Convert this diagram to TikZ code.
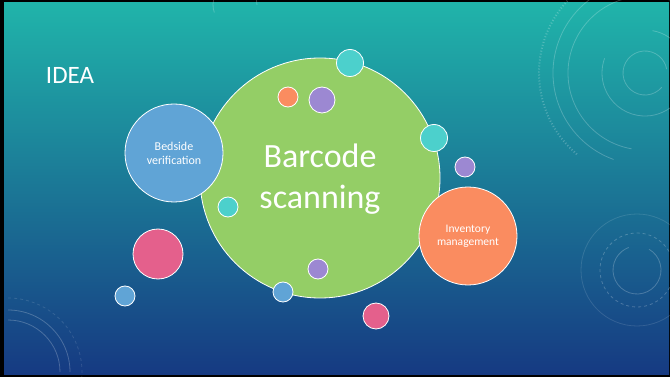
\documentclass[tikz,border=0pt]{standalone}
\usepackage{fontspec}
\setmainfont{Carlito}
\begin{document}
\begin{tikzpicture}[x=1pt,y=-1pt,
  bub/.style={circle,draw=white,line width=0.8pt,inner sep=0pt},
  deco/.style={draw=white,opacity=0.22,line width=0.8pt},
  lbl/.style={text=white,align=center,font=\fontsize{12}{14}\selectfont}]
\definecolor{bgtop}{RGB}{32,180,170}
\definecolor{bgmid}{RGB}{20,115,160}
\definecolor{bgbot}{RGB}{22,58,130}
\definecolor{cgreen}{RGB}{148,206,102}
\definecolor{cblue}{RGB}{96,164,214}
\definecolor{corange}{RGB}{250,140,96}
\definecolor{cpink}{RGB}{228,96,140}
\definecolor{cteal}{RGB}{76,208,204}
\definecolor{cpurple}{RGB}{156,136,210}
\useasboundingbox (0,0) rectangle (670,377);
\fill[black] (0,0) rectangle (670,377);
\shade[top color=bgtop,middle color=bgmid,bottom color=bgbot] (4,3) rectangle (669,374);
% decorations
\draw[deco] (645,73) ++(40:22) arc[start angle=40,end angle=350,radius=22];
\draw[deco] (645,73) ++(-80:43) arc[start angle=-80,end angle=200,radius=43];
\draw[deco] (645,73) ++(100:77) arc[start angle=100,end angle=300,radius=77];
\draw[deco] (645,73) ++(110:92) arc[start angle=110,end angle=285,radius=92];
\draw[deco,dash pattern=on 1pt off 2pt,line width=2pt] (645,73) ++(130:106) arc[start angle=130,end angle=255,radius=106];
\draw[deco] (235,5) ++(160:22) arc[start angle=160,end angle=360,radius=22];
\draw[deco] (637,270) ++(-60:24) arc[start angle=-60,end angle=250,radius=24];
\draw[deco,dashed] (637,270) circle[radius=37];
\draw[deco,opacity=0.12] (637,270) circle[radius=56];
\draw[deco] (8,372) ++(0:52) arc[start angle=0,end angle=-90,radius=52];
\draw[deco] (8,372) ++(0:62) arc[start angle=0,end angle=-90,radius=62];
\draw[deco,dashed,opacity=0.12] (8,372) ++(10:74) arc[start angle=10,end angle=-90,radius=74];
% title
\node[text=white,font=\fontsize{25}{30}\selectfont] (idea) at (70,75) {IDEA};
% bubbles
\node[bub,fill=cgreen,minimum size=240pt] (main) at (320,178) {};
\node[text=white,align=center,font=\fontsize{34}{41}\selectfont] (maintxt) at (320,179) {Barcode\\scanning};
\node[bub,fill=cblue,minimum size=98pt,lbl] (bed) at (174,153) {Bedside\\verification};
\node[bub,fill=corange,minimum size=98pt,lbl,font=\fontsize{11.5}{13}\selectfont] (inv) at (468,236) {Inventory\\management};
\node[bub,fill=cpink,minimum size=50pt] (p1) at (158,254) {};
\node[bub,fill=cpink,minimum size=26pt] (p2) at (376,316) {};
\node[bub,fill=cblue,minimum size=20pt] (b1) at (125,296) {};
\node[bub,fill=cblue,minimum size=20pt] (b2) at (283,292) {};
\node[bub,fill=cpurple,minimum size=20pt] (u1) at (318,269) {};
\node[bub,fill=cteal,minimum size=20pt] (t1) at (228,207) {};
\node[bub,fill=corange,minimum size=20pt] (o1) at (288,97) {};
\node[bub,fill=cpurple,minimum size=26pt] (u2) at (322,100) {};
\node[bub,fill=cteal,minimum size=27pt] (t2) at (350,63) {};
\node[bub,fill=cteal,minimum size=27pt] (t3) at (434,138) {};
\node[bub,fill=cpurple,minimum size=20pt] (u3) at (465,167) {};
\end{tikzpicture}
\end{document}
